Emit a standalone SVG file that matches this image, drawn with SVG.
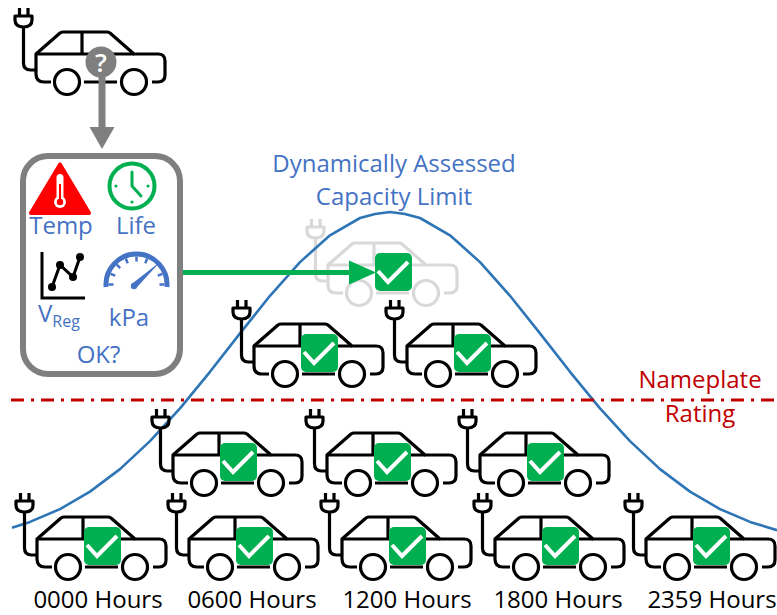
<svg xmlns="http://www.w3.org/2000/svg" xmlns:xlink="http://www.w3.org/1999/xlink" width="777" height="615" viewBox="0 0 777 615">
  <style>
    .car { fill: none; stroke: #000; stroke-width: 3.2; stroke-linejoin: round; }
    .ghost { fill: none; stroke: #d9d9d9; stroke-width: 3.2; stroke-linejoin: round; }
    .lbl { font-family: "Open Sans", "Liberation Sans", sans-serif; font-size: 24px; text-anchor: middle; }
    .blue { fill: #4472c4; }
    .red { fill: #c00000; }
    .black { fill: #000; }
  </style>
  <defs>
    <!-- plug-in car outline, drawn in local coordinates -->
    <g id="carShape">
      <path d="M19.5,8V16 M28,8V16"/>
      <path d="M15,16H32V20Q32,27 23.5,27Q15,27 15,20Z"/>
      <path d="M23.5,27V63Q23.5,70 30.5,70H36"/>
      <path d="M51,82H44Q36,82 36,74V54L60,33Q61.5,32 63,32H107Q108.5,32 110,33L134,54H158Q165,54 165,61V75Q165,82 158,82H152"/>
      <path d="M84,82H117 M36,54H134 M82,32V54"/>
      <circle cx="67" cy="82" r="12.5"/>
      <circle cx="134" cy="82" r="12.5"/>
    </g>
    <!-- green approval badge -->
    <g id="check">
      <rect x="83" y="42" width="37" height="38" rx="5" fill="#00b050"/>
      <polyline points="86,60 96,71 116,51" fill="none" stroke="#fff" stroke-width="4"/>
    </g>
    <g id="okCar">
      <use xlink:href="#carShape" class="car"/>
      <use xlink:href="#check"/>
    </g>
  </defs>

  <rect width="777" height="615" fill="#fff"/>

  <!-- ghost car at the top of the capacity curve -->
  <g id="ghost-car" transform="translate(292,211)">
    <use xlink:href="#carShape" class="ghost"/>
    <use xlink:href="#check"/>
  </g>

  <!-- dynamically assessed capacity curve -->
  <polyline id="capacity-curve" fill="none" stroke="#2e75b6" stroke-width="2.6" stroke-linejoin="round"
    points="12,527.8 30,521.9 60,509.1 90,491.6 120,469.1 150,441.1 180,408.3 210,371.8 240,333.4 270,295.8 300,262.1 330,235.3 360,218 375,214 390,212 405,214 420,218 450,235.3 480,262.1 510,295.8 540,333.4 570,371.8 600,408.3 630,441.1 660,469.1 690,491.6 720,509.1 750,521.9 777,530.2"/>

  <!-- nameplate rating line -->
  <line id="nameplate-line" x1="11" y1="400" x2="777" y2="400" stroke="#c00000" stroke-width="3.2" stroke-dasharray="13 7 3 7"/>

  <text class="lbl blue" x="394" y="172">Dynamically Assessed</text>
  <text class="lbl blue" x="394" y="205">Capacity Limit</text>
  <text class="lbl red" x="700" y="388">Nameplate</text>
  <text class="lbl red" x="700" y="422">Rating</text>

  <!-- car awaiting assessment -->
  <g id="query-car">
    <use xlink:href="#carShape" class="car"/>
    <circle cx="101" cy="62" r="15.5" fill="#7f7f7f"/>
    <text x="101" y="72" font-family="Open Sans, Liberation Sans, sans-serif" font-size="26" font-weight="600" fill="#fff" text-anchor="middle">?</text>
  </g>

  <!-- assessment criteria panel -->
  <g id="assessment">
    <rect x="23" y="156" width="157" height="218" rx="25" fill="#fff" stroke="#7f7f7f" stroke-width="6"/>
    <!-- temperature warning -->
    <polygon points="60,164.5 89,213 31,213" fill="#ff0000" stroke="#ff0000" stroke-width="4" stroke-linejoin="round"/>
    <rect x="56.5" y="174" width="7" height="26" rx="3.5" fill="#fff"/>
    <circle cx="60" cy="202" r="6" fill="#fff"/>
    <line x1="60" y1="184" x2="60" y2="200" stroke="#ff0000" stroke-width="2"/>
    <circle cx="60" cy="202" r="3.2" fill="#ff0000"/>
    <text class="lbl blue" x="61" y="234">Temp</text>
    <!-- life clock -->
    <circle cx="132" cy="186" r="22.5" fill="none" stroke="#00b050" stroke-width="4"/>
    <path d="M132,172V186L141,196" fill="none" stroke="#00b050" stroke-width="3" stroke-linecap="round" stroke-linejoin="round"/>
    <g fill="#00b050">
      <circle cx="148" cy="186" r="1.6"/>
      <circle cx="132" cy="202" r="1.6"/>
      <circle cx="116" cy="186" r="1.6"/>
    </g>
    <text class="lbl blue" x="136" y="234">Life</text>
    <!-- voltage regulation chart -->
    <path d="M42,252V298H85" fill="none" stroke="#000" stroke-width="3"/>
    <polyline points="52,287 60,265 73,277 80,257" fill="none" stroke="#000" stroke-width="3"/>
    <g fill="#000">
      <circle cx="52" cy="287" r="4"/>
      <circle cx="60" cy="265" r="4"/>
      <circle cx="73" cy="277" r="4"/>
      <circle cx="80" cy="257" r="4"/>
    </g>
    <text class="blue" x="38" y="322" font-family="Open Sans, Liberation Sans, sans-serif" font-size="24">V<tspan font-size="16" y="327">Reg</tspan></text>
    <!-- pressure gauge -->
    <path d="M106.1,287A30.5,30.5 0 1 1 166.9,287" fill="none" stroke="#4472c4" stroke-width="5"/>
    <path d="M108.5,284.5H113.5 M110.6,273.8L115.2,275.7 M116.7,264.7L120.2,268.2 M125.8,258.6L127.7,263.2 M136.5,256.5V261.5 M147.2,258.6L145.3,263.2 M162.4,273.8L157.8,275.7 M164.5,284.5H159.5" stroke="#4472c4" stroke-width="2.5"/>
    <polygon points="136,288.2 132,283.8 160.5,261.5" fill="#4472c4"/>
    <circle cx="134" cy="286" r="3.2" fill="#4472c4"/>
    <text class="lbl blue" x="129" y="326">kPa</text>
    <text class="lbl blue" x="98.5" y="363">OK?</text>
  </g>

  <!-- approved cars -->
  <g id="car-r3-1" transform="translate(218,292)"><use xlink:href="#okCar"/></g>
  <g id="car-r3-2" transform="translate(371,292)"><use xlink:href="#okCar"/></g>
  <g id="car-r2-1" transform="translate(137,401)"><use xlink:href="#okCar"/></g>
  <g id="car-r2-2" transform="translate(291,401)"><use xlink:href="#okCar"/></g>
  <g id="car-r2-3" transform="translate(444,401)"><use xlink:href="#okCar"/></g>
  <g id="car-r1-1" transform="translate(1,485)"><use xlink:href="#okCar"/></g>
  <g id="car-r1-2" transform="translate(153,485)"><use xlink:href="#okCar"/></g>
  <g id="car-r1-3" transform="translate(306,485)"><use xlink:href="#okCar"/></g>
  <g id="car-r1-4" transform="translate(459,485)"><use xlink:href="#okCar"/></g>
  <g id="car-r1-5" transform="translate(610,485)"><use xlink:href="#okCar"/></g>

  <!-- time axis labels -->
  <g id="hour-labels">
    <text class="lbl black" x="98" y="608">0000 Hours</text>
    <text class="lbl black" x="252" y="608">0600 Hours</text>
    <text class="lbl black" x="407" y="608">1200 Hours</text>
    <text class="lbl black" x="558" y="608">1800 Hours</text>
    <text class="lbl black" x="712" y="608">2359 Hours</text>
  </g>

  <!-- connectors -->
  <g id="connectors">
    <line x1="102" y1="77" x2="102" y2="128" stroke="#7f7f7f" stroke-width="7"/>
    <polygon points="89.5,127 114.5,127 102,149" fill="#7f7f7f"/>
    <line x1="183" y1="272.5" x2="351" y2="272.5" stroke="#00b050" stroke-width="5"/>
    <polygon points="349,260.5 376,272.5 349,284.5" fill="#00b050"/>
  </g>
</svg>
